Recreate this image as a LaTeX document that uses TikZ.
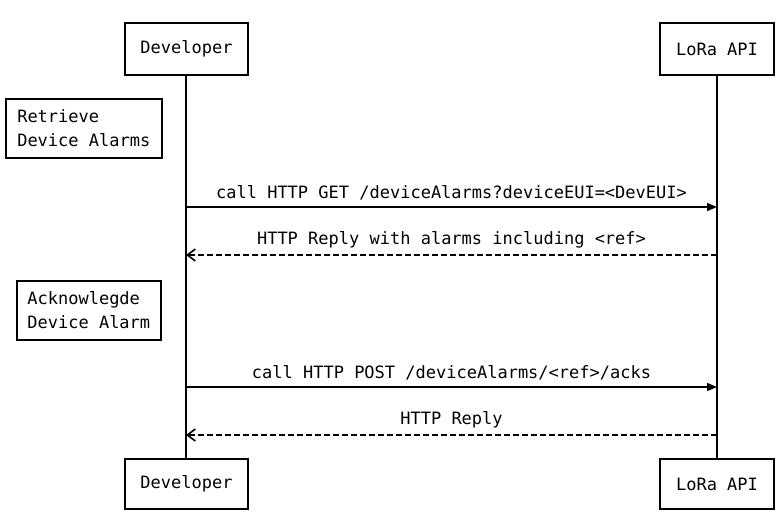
\documentclass[tikz,border=0pt]{standalone}
\usepackage{fontspec}
\setmonofont{DejaVu Sans Mono}
\usetikzlibrary{arrows.meta}
\begin{document}
\begin{tikzpicture}[x=1pt,y=-1pt,
  box/.style={draw,line width=1.6pt,fill=white,inner sep=0pt},
  lbl/.style={font=\ttfamily\fontsize{17}{20}\selectfont},
  note/.style={draw,line width=1.6pt,fill=white,align=left,inner sep=5pt,font=\ttfamily\fontsize{17}{24}\selectfont},
  msg/.style={line width=1.6pt,-{Triangle[length=10pt,width=8pt]}},
  rep/.style={msg,dashed,dash pattern=on 6pt off 3pt,-{Straight Barb[length=8pt,width=12pt]}}]
\useasboundingbox (0,0) rectangle (779,513);
\coordinate (dt) at (186,75); \coordinate (db) at (186,459);
\coordinate (lt) at (717,75); \coordinate (lb) at (717,459);
\draw[line width=1.6pt] (dt) -- (db);
\draw[line width=1.6pt] (lt) -- (lb);
\node[box,minimum width=123pt,minimum height=52pt,lbl] (d1) at (186.5,49) {Developer};
\node[box,minimum width=114pt,minimum height=52pt,lbl] (l1) at (717,49) {LoRa API};
\node[box,minimum width=123pt,minimum height=50pt,lbl] (d2) at (186.5,484) {Developer};
\node[box,minimum width=114pt,minimum height=50pt,lbl] (l2) at (717,484) {LoRa API};
\node[note,minimum width=156pt,minimum height=59pt,anchor=north west] (n1) at (5,98) {Retrieve\\Device Alarms};
\node[note,minimum width=144pt,minimum height=59pt,anchor=north west] (n2) at (16,280) {Acknowlegde\\Device Alarm};
\coordinate (a1s) at (186,207); \coordinate (a1e) at (717,207);
\coordinate (a2s) at (717,255); \coordinate (a2e) at (186,255);
\coordinate (a3s) at (186,387); \coordinate (a3e) at (717,387);
\coordinate (a4s) at (717,435); \coordinate (a4e) at (186,435);
\draw[msg] (a1s) -- node[lbl,above=3pt] {call HTTP GET /deviceAlarms?deviceEUI=<DevEUI>} (a1e);
\draw[rep] (a2s) -- node[lbl,above=3pt] {HTTP Reply with alarms including <ref>} (a2e);
\draw[msg] (a3s) -- node[lbl,above=3pt] {call HTTP POST /deviceAlarms/<ref>/acks} (a3e);
\draw[rep] (a4s) -- node[lbl,above=3pt] {HTTP Reply} (a4e);
\end{tikzpicture}
\end{document}
